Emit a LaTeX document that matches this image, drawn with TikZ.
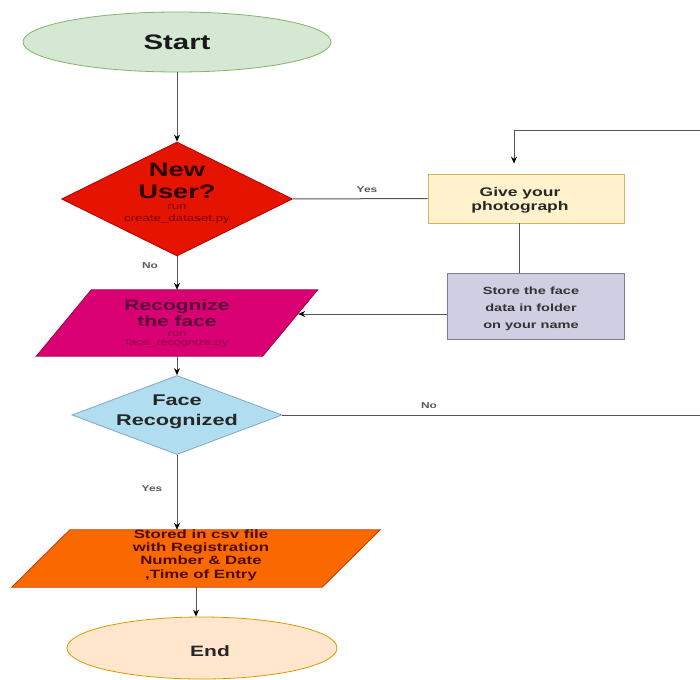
\documentclass[tikz,border=0pt]{standalone}
\usepackage{fontspec}
\setmainfont{Liberation Sans}[FakeStretch=1.4]
\usetikzlibrary{shapes.geometric,arrows.meta}
\definecolor{stfill}{HTML}{D5E8D4}\definecolor{stdraw}{HTML}{82B366}
\definecolor{nufill}{HTML}{E51400}\definecolor{nudraw}{HTML}{B20000}
\definecolor{rcfill}{HTML}{D80073}\definecolor{rcdraw}{HTML}{A50040}
\definecolor{fcfill}{HTML}{B1DDF0}\definecolor{fcdraw}{HTML}{7FA9C0}
\definecolor{gvfill}{HTML}{FFF2CC}\definecolor{gvdraw}{HTML}{D6B656}
\definecolor{sffill}{HTML}{D0CEE2}\definecolor{sfdraw}{HTML}{7E7A9A}
\definecolor{csfill}{HTML}{FA6800}\definecolor{csdraw}{HTML}{C73500}
\definecolor{enfill}{HTML}{FFE6CC}\definecolor{endraw}{HTML}{D79B00}
\definecolor{nutext}{HTML}{2A0000}\definecolor{nusmall}{HTML}{7A0000}
\definecolor{rctext}{HTML}{5A0A3A}\definecolor{rcsmall}{HTML}{8A0048}
\definecolor{cstext}{HTML}{4A0A00}
\definecolor{linec}{HTML}{555555}
\begin{document}
\begin{tikzpicture}[x=1pt,y=-1pt,
  arr/.style={-{Stealth[length=7pt,width=6pt,color=black]}, line width=1pt, draw=linec},
  ln/.style={line width=1pt, draw=linec},
  lbl/.style={font=\fontsize{8.5}{10}\selectfont\bfseries, text=black!65},
  body/.style={rectangle, draw=none, inner sep=0pt},
  dia/.style={diamond, inner sep=0pt, aspect=2, line width=0.8pt},
  txt/.style={align=center, inner sep=0pt}
]
\useasboundingbox (0,0) rectangle (700,679);

% shapes
\node[ellipse, draw=stdraw, fill=stfill, line width=0.8pt, minimum width=308pt, minimum height=60pt,
  font=\bfseries\fontsize{21}{22}\selectfont, text=black!90] (start) at (177,42) {Start};

\node[dia, draw=nudraw, fill=nufill, minimum width=231pt, minimum height=114pt] (nu) at (177,199) {};
\node[txt, text=nutext, font=\fontsize{19.5}{22}\selectfont\bfseries] (nut) at (177,180.5) {New\\User?};
\node[txt, text=nusmall, font=\fontsize{9.5}{11.5}\selectfont] (nus) at (177,214) {run\\create\_dataset.py};

\node[body, minimum width=226pt, minimum height=66pt] (rec) at (177,323) {};
\fill[rcfill, draw=rcdraw, line width=0.8pt] ([xshift=27.5pt]rec.north west) -- ([xshift=27.5pt]rec.north east)
  -- ([xshift=-27.5pt]rec.south east) -- ([xshift=-27.5pt]rec.south west) -- cycle;
\node[txt, text=rctext, font=\fontsize{15}{16.5}\selectfont\bfseries] (rect) at (177,313) {Recognize\\the face};
\node[txt, text=rcsmall, font=\fontsize{9}{9.5}\selectfont] (recs) at (177,339.5) {run\\face\_recognize.py};

\node[dia, draw=fcdraw, fill=fcfill, minimum width=210pt, minimum height=79pt] (face) at (177,415) {};
\node[txt, font=\bfseries\fontsize{15.5}{20}\selectfont, text=black!85] (facet) at (177,412) {Face\\Recognized};

\node[body, minimum width=310pt, minimum height=57pt] (csv) at (196,558.5) {};
\fill[csfill, draw=csdraw, line width=0.8pt] ([xshift=29pt]csv.north west) -- ([xshift=29pt]csv.north east)
  -- ([xshift=-29pt]csv.south east) -- ([xshift=-29pt]csv.south west) -- cycle;
\node[txt, font=\bfseries\fontsize{12}{13.4}\selectfont, text=cstext] (csvt) at (201,555)
  {Stored in csv file\\with Registration\\Number \& Date\\,Time of Entry};

\node[ellipse, draw=endraw, fill=enfill, line width=0.8pt, minimum width=270pt, minimum height=62pt] (end) at (202,648) {};
\node[txt, font=\bfseries\fontsize{15}{18}\selectfont, text=black!85] (endt) at (210,651) {End};

\node[draw=gvdraw, fill=gvfill, line width=0.8pt, minimum width=196pt, minimum height=49pt] (give) at (526,198.5) {};
\node[txt, font=\bfseries\fontsize{12.5}{14}\selectfont, text=black!85] (givet) at (520,200) {Give your\\photograph};

\node[draw=sfdraw, fill=sffill, line width=0.8pt, minimum width=177pt, minimum height=66pt] (store) at (535.5,306) {};
\node[txt, font=\bfseries\fontsize{10.4}{17}\selectfont, text=black!80] (storet) at (531,309) {Store the face\\data in folder\\on your name};

% connectors
\draw[arr] (start.south) -- (nu.north);
\draw[ln] (nu.east) -- (give.west);
\node[lbl] (yes1) at (367,190) {Yes};
\draw[arr] (nu.south) -- (rec.north);
\node[lbl] (no1) at (150,266) {No};
\coordinate (gs) at ([xshift=-7pt]give.south);
\draw[ln] (gs) -- (gs |- store.north);
\coordinate (sx) at ([yshift=-8pt]store.west);
\coordinate (redge) at ([xshift=8pt]sx -| rec.east);
\draw[arr] (sx) -- (redge);
\draw[arr] (rec.south) -- (face.north);
\draw[arr] (face.south) -- (face.south |- csv.north);
\node[lbl] (yes2) at (152,489) {Yes};
\draw[arr] (csv.south) -- (csv.south |- end.north);
\coordinate (loopA) at (712,415);
\coordinate (loopB) at (712,131);
\coordinate (gn) at ([xshift=-12pt]give.north);
\draw[ln] (face.east) -- (loopA);
\draw[arr, shorten >=10pt] (loopA) -- (loopB) -| (gn);
\node[lbl] (no2) at (429,406) {No};
\end{tikzpicture}
\end{document}
